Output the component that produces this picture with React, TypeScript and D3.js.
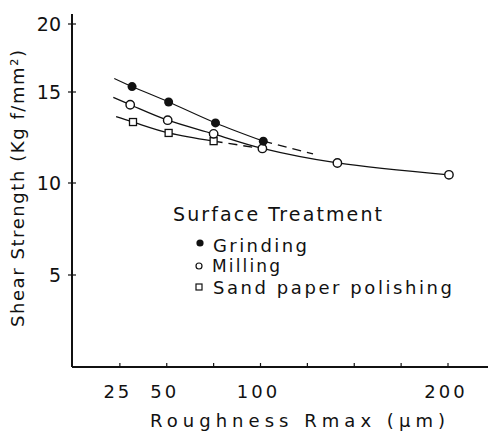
import React from "react";
import * as d3 from "d3";

// ---- data ----
const xTicks = [25, 50, 75, 100, 125, 150, 175, 200];
const xTickLabels = [25, 50, 100, 200];
const yTicks = [5, 10, 15, 20];

const grindingX = [31.5, 51, 76, 101.5];
const grindingY = [15.4, 14.45, 13.3, 12.3];
const grindingLead = { x: 22, y: 16.0 };
const grindingTail = { x: 128, y: 11.6 };

const millingX = [30.5, 50.5, 75, 101, 141, 200.5];
const millingY = [14.3, 13.45, 12.7, 11.9, 11.1, 10.45];
const millingLead = { x: 21.5, y: 14.7 };

const sandX = [32, 51, 75];
const sandY = [13.35, 12.75, 12.3];
const sandLead = { x: 23, y: 13.65 };
const sandTail = { x: 97, y: 11.95 };

const legendTitle = "Surface Treatment";
const legendItems = ["Grinding", "Milling", "Sand paper polishing"];

type P = { x: number; y: number };

export default function App() {
  const W = 491;
  const H = 441;
  const x = d3.scaleLinear().domain([0, 200]).range([73, 448]);
  const y = d3.scaleLinear().domain([0, 5, 10, 15, 20]).range([367, 275, 183, 92, 24]);
  const line = d3
    .line<P>()
    .x((d) => x(d.x))
    .y((d) => y(d.y))
    .curve(d3.curveCatmullRom.alpha(0.5));

  const zip = (xs: number[], ys: number[]): P[] => xs.map((v, i) => ({ x: v, y: ys[i] }));
  const g = zip(grindingX, grindingY);
  const m = zip(millingX, millingY);
  const s = zip(sandX, sandY);

  const font = "'DejaVu Sans', sans-serif";
  const ink = "#111";

  return (
    <svg
      width={W}
      height={H}
      viewBox={`0 0 ${W} ${H}`}
      style={{ position: "absolute", left: 0, top: 0, background: "#fff" }}
    >
      <rect x={0} y={0} width={W} height={H} fill="#fff" />
      {/* axes */}
      <line x1={x(0) - 1} y1={14} x2={x(0) - 1} y2={y(0)} stroke={ink} strokeWidth={2} />
      <line x1={x(0) - 1} y1={y(0)} x2={488} y2={y(0)} stroke={ink} strokeWidth={2} />
      {yTicks.map((t) => (
        <g key={`yt${t}`}>
          <line x1={x(0) - 5} x2={x(0) + 3} y1={y(t)} y2={y(t)} stroke={ink} strokeWidth={1.2} />
          <text
            x={61}
            y={y(t) + 7}
            textAnchor="end"
            fontFamily={font}
            fontSize={19}
            fill={ink}
          >
            {t}
          </text>
        </g>
      ))}
      {xTicks.map((t) => (
        <line key={`xt${t}`} x1={x(t)} x2={x(t)} y1={y(0) - 4} y2={y(0)} stroke={ink} strokeWidth={1.2} />
      ))}
      {xTickLabels.map((t) => (
        <text
          key={`xl${t}`}
          x={x(t) - 2}
          y={398}
          textAnchor="middle"
          fontFamily={font}
          fontSize={18}
          fill={ink}
          letterSpacing={3}
        >
          {t}
        </text>
      ))}
      <text
        x={150}
        y={427}
        fontFamily={font}
        fontSize={18}
        fill={ink}
        textLength={295}
        lengthAdjust="spacing"
      >
        Roughness Rmax (μm)
      </text>
      <text
        transform="translate(24,327) rotate(-90)"
        x={0}
        y={0}
        fontFamily={font}
        fontSize={18}
        fill={ink}
        textLength={277}
        lengthAdjust="spacing"
      >
        Shear  Strength (Kg f/mm²)
      </text>

      {/* curves */}
      <path d={line([grindingLead, ...g]) || ""} fill="none" stroke={ink} strokeWidth={1.1} />
      <path
        d={line([g[g.length - 1], grindingTail]) || ""}
        fill="none"
        stroke={ink}
        strokeWidth={1.4}
        strokeDasharray="9,6"
      />
      <path d={line([millingLead, ...m]) || ""} fill="none" stroke={ink} strokeWidth={1.3} />
      <path d={line([sandLead, ...s]) || ""} fill="none" stroke={ink} strokeWidth={1.3} />
      <path
        d={line([s[s.length - 1], sandTail]) || ""}
        fill="none"
        stroke={ink}
        strokeWidth={1.4}
        strokeDasharray="9,6"
      />

      {/* markers */}
      {s.map((d, i) => (
        <rect
          key={`s${i}`}
          x={x(d.x) - 3.5}
          y={y(d.y) - 3.5}
          width={7}
          height={7}
          fill="#fff"
          stroke={ink}
          strokeWidth={1.3}
        />
      ))}
      {m.map((d, i) => (
        <circle key={`m${i}`} cx={x(d.x)} cy={y(d.y)} r={4.2} fill="#fff" stroke={ink} strokeWidth={1.4} />
      ))}
      {g.map((d, i) => (
        <circle key={`g${i}`} cx={x(d.x)} cy={y(d.y)} r={4.5} fill={ink} />
      ))}

      {/* legend */}
      <text x={173} y={221} fontFamily={font} fontSize={19} fill={ink} textLength={209} lengthAdjust="spacing">
        {legendTitle}
      </text>
      <circle cx={200} cy={243} r={3.6} fill={ink} />
      <text x={213} y={252} fontFamily={font} fontSize={18} fill={ink} textLength={94} lengthAdjust="spacing">
        {legendItems[0]}
      </text>
      <circle cx={199} cy={266} r={3} fill="#fff" stroke={ink} strokeWidth={1.2} />
      <text x={212} y={272} fontFamily={font} fontSize={17} fill={ink} textLength={68} lengthAdjust="spacing">
        {legendItems[1]}
      </text>
      <rect x={196} y={284} width={6} height={6} fill="#fff" stroke={ink} strokeWidth={1.2} />
      <text x={213} y={294} fontFamily={font} fontSize={18} fill={ink} textLength={239} lengthAdjust="spacing">
        {legendItems[2]}
      </text>
    </svg>
  );
}
